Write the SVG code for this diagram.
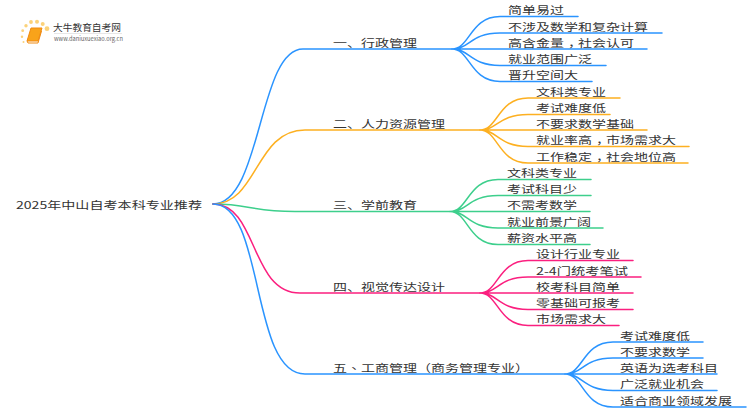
<svg xmlns="http://www.w3.org/2000/svg" width="750" height="410" viewBox="0 0 750 410">
<style>
text{font-family:"Noto Sans CJK SC","Liberation Sans",sans-serif;font-size:10.5px;fill:#333;}
.tc{font-family:"Noto Sans CJK TC","Liberation Sans",sans-serif}
.c{fill:none;stroke-width:1.5;stroke-linecap:round}
.b{stroke:#2a94ff}.o{stroke:#fdb021}.g{stroke:#3dcf8c}.p{stroke:#fb1f7f}
.d{fill:#fbd27a}
</style>
<rect width="750" height="410" fill="#fff"/>
<g id="logo">
<circle class="d" cx="47" cy="28.700" r="2.400"/><circle class="d" cx="42.700" cy="24" r="2"/><circle class="d" cx="37" cy="21.700" r="2"/><circle class="d" cx="31" cy="22" r="1.900"/><circle class="d" cx="26" cy="25.700" r="1.700"/><circle class="d" cx="22.700" cy="30.700" r="1.400"/><circle class="d" cx="22" cy="36.700" r="1.200"/><circle class="d" cx="23.500" cy="42" r="1"/>
<path d="M31 28H42L38 41H27Z" fill="#f9a31a" stroke="#f08a10" stroke-width="1"/><path d="M27 41L28 43H38L41.500 31" fill="none" stroke="#f08a10" stroke-width="1"/>
<text x="53" y="31" textLength="68" lengthAdjust="spacingAndGlyphs" style="font-size:9.500px">大牛教育自考网</text>
<path d="M54 33.500H122" stroke="#ddd" stroke-width=".7"/>
<text x="54" y="40.500" textLength="69" lengthAdjust="spacingAndGlyphs" style="font-size:6px;fill:#666">www.daniuxuexiao.org.cn</text>
</g>
<g id="connectors">
<path class="c b" d="M213 204C262 204 258 49 303 49H452"/>
<path class="c o" d="M213 204C258 204 255 130 305 130H480"/>
<path class="c g" d="M213 204C250 204 250 211.500 295 211.500H450"/>
<path class="c p" d="M213 204C258 204 250 293 300 293H480"/>
<path class="c b" d="M213 204C265 204 250 374 305 374H565"/>
<path class="c b" d="M452 49C470 49 470 16.500 500 16.500H578M452 49C470 49 470 33 500 33H662M452 49H647M452 49C470 49 470 65.500 500 65.500H606M452 49C470 49 470 81.500 500 81.500H592"/>
<path class="c o" d="M480 130C498 130 498 98 528 98H620M480 130C498 130 498 114.500 528 114.500H610M480 130H647M480 130C498 130 498 146.500 528 146.500H689M480 130C498 130 498 163 528 163H688"/>
<path class="c g" d="M450 211.500C468 211.500 468 179.500 498 179.500H591M450 211.500C468 211.500 468 195.500 498 195.500H591M450 211.500H590M450 211.500C468 211.500 468 228 498 228H603M450 211.500C468 211.500 468 244.500 498 244.500H590"/>
<path class="c p" d="M480 293C498 293 498 260.500 528 260.500H633M480 293C498 293 498 277 528 277H641M480 293H633M480 293C498 293 498 309.500 528 309.500H633M480 293C498 293 498 325.500 528 325.500H619"/>
<path class="c b" d="M565 374C583 374 583 342 613 342H703M565 374C583 374 583 358 613 358H703M565 374H717M565 374C583 374 583 390.500 613 390.500H717M565 374C583 374 583 407 613 407H746"/>
</g>
<g id="root"><text x="16" y="209" textLength="186" lengthAdjust="spacingAndGlyphs">2025年中山自考本科专业推荐</text></g>
<g id="n1"><text x="333" y="46.500" textLength="84" lengthAdjust="spacingAndGlyphs">一、行政管理</text></g>
<g id="n1-1"><text x="508" y="14" textLength="56" lengthAdjust="spacingAndGlyphs">简单易过</text></g>
<g id="n1-2"><text x="508" y="30.500" textLength="140" lengthAdjust="spacingAndGlyphs">不涉及数学和复杂计算</text></g>
<g id="n1-3"><text x="508" y="46.500" textLength="126" lengthAdjust="spacingAndGlyphs">高含金量<tspan dx="3">，</tspan><tspan dx="-3">社</tspan>会认可</text></g>
<g id="n1-4"><text x="508" y="63" textLength="84" lengthAdjust="spacingAndGlyphs">就业范围广泛</text></g>
<g id="n1-5"><text x="508" y="79" textLength="70" lengthAdjust="spacingAndGlyphs">晋升空间大</text></g>
<g id="n2"><text x="333" y="127.500" textLength="112" lengthAdjust="spacingAndGlyphs">二、人力资源管理</text></g>
<g id="n2-1"><text x="536" y="95.500" textLength="70" lengthAdjust="spacingAndGlyphs">文科类专业</text></g>
<g id="n2-2"><text x="536" y="112" textLength="70" lengthAdjust="spacingAndGlyphs">考试难度低</text></g>
<g id="n2-3"><text x="536" y="128" textLength="98" lengthAdjust="spacingAndGlyphs">不要求数学基础</text></g>
<g id="n2-4"><text x="536" y="144" textLength="140" lengthAdjust="spacingAndGlyphs">就业率高<tspan dx="3">，</tspan><tspan dx="-3">市</tspan>场需求大</text></g>
<g id="n2-5"><text x="536" y="160.500" textLength="140" lengthAdjust="spacingAndGlyphs">工作稳定<tspan dx="3">，</tspan><tspan dx="-3">社</tspan>会地位高</text></g>
<g id="n3"><text x="333" y="209" textLength="84" lengthAdjust="spacingAndGlyphs">三、学前教育</text></g>
<g id="n3-1"><text x="507" y="177" textLength="70" lengthAdjust="spacingAndGlyphs">文科类专业</text></g>
<g id="n3-2"><text x="507" y="193" textLength="70" lengthAdjust="spacingAndGlyphs">考试科目少</text></g>
<g id="n3-3"><text x="507" y="209" textLength="70" lengthAdjust="spacingAndGlyphs">不需考数学</text></g>
<g id="n3-4"><text x="507" y="225.500" textLength="84" lengthAdjust="spacingAndGlyphs">就业前景广阔</text></g>
<g id="n3-5"><text x="507" y="242" textLength="70" lengthAdjust="spacingAndGlyphs">薪资水平高</text></g>
<g id="n4"><text x="333" y="290.500" textLength="112" lengthAdjust="spacingAndGlyphs">四、视觉传达设计</text></g>
<g id="n4-1"><text x="536" y="258" textLength="84" lengthAdjust="spacingAndGlyphs">设计行业专业</text></g>
<g id="n4-2"><text x="536" y="274.500" textLength="92" lengthAdjust="spacingAndGlyphs">2-4门统考笔试</text></g>
<g id="n4-3"><text x="536" y="290.500" textLength="84" lengthAdjust="spacingAndGlyphs">校考科目简单</text></g>
<g id="n4-4"><text x="536" y="307" textLength="84" lengthAdjust="spacingAndGlyphs">零基础可报考</text></g>
<g id="n4-5"><text x="536" y="323" textLength="70" lengthAdjust="spacingAndGlyphs">市场需求大</text></g>
<g id="n5"><text class="tc" x="333" y="371.500" textLength="196" lengthAdjust="spacingAndGlyphs">五、工商管理（商务管理专业）</text></g>
<g id="n5-1"><text x="620" y="339.500" textLength="70" lengthAdjust="spacingAndGlyphs">考试难度低</text></g>
<g id="n5-2"><text x="620" y="355.500" textLength="70" lengthAdjust="spacingAndGlyphs">不要求数学</text></g>
<g id="n5-3"><text x="620" y="371.500" textLength="98" lengthAdjust="spacingAndGlyphs">英语为选考科目</text></g>
<g id="n5-4"><text x="620" y="388" textLength="84" lengthAdjust="spacingAndGlyphs">广泛就业机会</text></g>
<g id="n5-5"><text x="620" y="404.500" textLength="112" lengthAdjust="spacingAndGlyphs">适合商业领域发展</text></g>
</svg>
